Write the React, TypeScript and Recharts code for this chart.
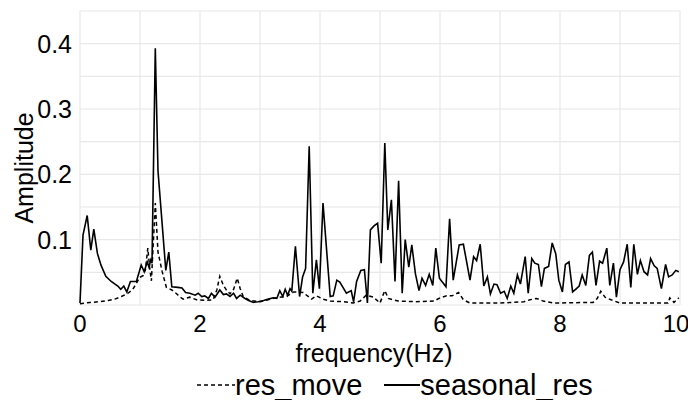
import { LineChart, Line, XAxis, YAxis, CartesianGrid, Legend, Label } from "recharts";

const FONT = '"Liberation Sans", Arial, sans-serif';

// [frequency (Hz), amplitude]
const seasonalRes: [number, number][] = [
  [0.0, 0.003], [0.05, 0.107], [0.12, 0.137], [0.18, 0.084], [0.23, 0.116], [0.29, 0.079],
  [0.35, 0.061], [0.43, 0.044], [0.52, 0.036], [0.63, 0.029], [0.68, 0.024], [0.73, 0.029],
  [0.78, 0.02], [0.84, 0.036], [0.94, 0.036], [1.02, 0.061], [1.07, 0.051], [1.12, 0.066],
  [1.15, 0.058], [1.18, 0.069], [1.2, 0.064], [1.255, 0.393], [1.3, 0.205], [1.43, 0.053],
  [1.48, 0.081], [1.53, 0.028], [1.63, 0.027], [1.7, 0.026], [1.76, 0.019], [1.83, 0.018],
  [1.92, 0.015], [1.97, 0.018], [2.03, 0.013], [2.08, 0.014], [2.14, 0.01], [2.19, 0.018],
  [2.25, 0.012], [2.33, 0.023], [2.39, 0.016], [2.44, 0.017], [2.5, 0.013], [2.56, 0.018],
  [2.61, 0.01], [2.67, 0.015], [2.75, 0.01], [2.81, 0.007], [2.89, 0.004], [2.97, 0.005],
  [3.06, 0.007], [3.14, 0.009], [3.22, 0.011], [3.28, 0.01], [3.33, 0.022], [3.38, 0.013],
  [3.42, 0.024], [3.46, 0.015], [3.5, 0.025], [3.53, 0.021], [3.59, 0.09], [3.66, 0.013],
  [3.71, 0.043], [3.76, 0.056], [3.82, 0.243], [3.88, 0.018], [3.94, 0.069], [3.99, 0.025],
  [4.05, 0.156], [4.17, 0.013], [4.22, 0.014], [4.28, 0.038], [4.33, 0.035], [4.44, 0.018],
  [4.52, 0.022], [4.56, 0.005], [4.61, 0.036], [4.68, 0.053], [4.74, 0.054], [4.79, 0.003],
  [4.84, 0.115], [4.9, 0.121], [4.96, 0.125], [5.02, 0.064], [5.08, 0.248], [5.13, 0.115],
  [5.19, 0.161], [5.25, 0.036], [5.31, 0.19], [5.37, 0.018], [5.42, 0.1], [5.48, 0.058],
  [5.53, 0.092], [5.59, 0.048], [5.65, 0.022], [5.7, 0.041], [5.76, 0.03], [5.82, 0.047],
  [5.88, 0.03], [5.93, 0.087], [5.99, 0.041], [6.1, 0.028], [6.16, 0.132], [6.22, 0.038],
  [6.32, 0.092], [6.39, 0.093], [6.5, 0.038], [6.56, 0.074], [6.61, 0.068], [6.67, 0.093],
  [6.73, 0.029], [6.79, 0.043], [6.84, 0.017], [6.9, 0.032], [6.95, 0.031], [7.01, 0.018],
  [7.07, 0.021], [7.12, 0.01], [7.18, 0.029], [7.23, 0.018], [7.29, 0.046], [7.34, 0.032],
  [7.42, 0.074], [7.47, 0.018], [7.53, 0.071], [7.58, 0.064], [7.64, 0.062], [7.69, 0.028],
  [7.74, 0.056], [7.81, 0.059], [7.87, 0.095], [7.93, 0.078], [7.98, 0.038], [8.04, 0.02],
  [8.09, 0.062], [8.15, 0.066], [8.21, 0.02], [8.26, 0.024], [8.32, 0.029], [8.37, 0.046],
  [8.43, 0.03], [8.49, 0.076], [8.54, 0.081], [8.6, 0.03], [8.66, 0.067], [8.71, 0.064],
  [8.78, 0.087], [8.83, 0.03], [8.89, 0.064], [8.94, 0.012], [9.0, 0.054], [9.06, 0.066],
  [9.12, 0.093], [9.18, 0.027], [9.23, 0.093], [9.29, 0.047], [9.34, 0.068], [9.4, 0.051],
  [9.46, 0.046], [9.51, 0.071], [9.57, 0.06], [9.62, 0.056], [9.69, 0.025], [9.76, 0.062],
  [9.81, 0.043], [9.87, 0.046], [9.93, 0.053], [9.98, 0.051],
];

const resMove: [number, number][] = [
  [0.0, 0.002], [0.17, 0.004], [0.33, 0.005], [0.47, 0.007], [0.58, 0.009], [0.69, 0.013],
  [0.8, 0.018], [0.88, 0.024], [0.94, 0.033], [0.99, 0.042], [1.05, 0.045], [1.09, 0.054],
  [1.13, 0.087], [1.16, 0.058], [1.19, 0.037], [1.255, 0.156], [1.3, 0.081], [1.37, 0.051],
  [1.44, 0.027], [1.53, 0.023], [1.6, 0.018], [1.67, 0.012], [1.72, 0.009], [1.83, 0.012],
  [1.94, 0.008], [2.11, 0.007], [2.22, 0.008], [2.28, 0.023], [2.33, 0.044], [2.39, 0.03],
  [2.44, 0.023], [2.5, 0.017], [2.56, 0.024], [2.62, 0.041], [2.67, 0.025], [2.72, 0.013],
  [2.83, 0.007], [3.0, 0.005], [3.17, 0.009], [3.33, 0.012], [3.44, 0.013], [3.56, 0.02],
  [3.72, 0.019], [3.86, 0.009], [3.94, 0.014], [4.05, 0.009], [4.17, 0.006], [4.4, 0.005],
  [4.55, 0.003], [4.67, 0.006], [4.77, 0.015], [4.89, 0.012], [5.0, 0.003], [5.08, 0.022],
  [5.14, 0.01], [5.3, 0.006], [5.6, 0.005], [5.9, 0.006], [6.0, 0.011], [6.11, 0.014],
  [6.2, 0.014], [6.31, 0.019], [6.39, 0.008], [6.5, 0.003], [7.0, 0.003], [7.4, 0.005],
  [7.5, 0.008], [7.61, 0.01], [7.72, 0.006], [7.89, 0.003], [8.55, 0.004], [8.62, 0.01],
  [8.68, 0.021], [8.75, 0.012], [8.85, 0.008], [9.0, 0.003], [9.8, 0.003], [9.83, 0.011],
  [9.9, 0.004], [9.98, 0.011],
];

const xTicks = [0, 1, 2, 3, 4, 5, 6, 7, 8, 9, 10];
const yTicks = [0, 0.05, 0.1, 0.15, 0.2, 0.25, 0.3, 0.35, 0.4, 0.45];
const yLabels = [0.1, 0.2, 0.3, 0.4];

const toRows = (pts: [number, number][]) => pts.map(([f, v]) => ({ f, v }));

function FreqLegend() {
  return (
    <div
      style={{
        display: "flex",
        alignItems: "center",
        marginLeft: 197,
        height: 30,
        fontFamily: FONT,
        fontSize: 29,
        color: "#000",
        whiteSpace: "nowrap",
      }}
    >
      <svg width={38} height={10}>
        <line x1={0} y1={5} x2={38} y2={5} stroke="#000" strokeWidth={1.6} strokeDasharray="4 3" />
      </svg>
      <span>res_move</span>
      <svg width={36} height={10} style={{ marginLeft: 22 }}>
        <line x1={0} y1={5} x2={36} y2={5} stroke="#000" strokeWidth={1.8} />
      </svg>
      <span>seasonal_res</span>
    </div>
  );
}

export default function App() {
  return (
    <div style={{ position: "absolute", left: 0, top: 0, background: "#fff" }}>
      <LineChart width={688} height={400} margin={{ top: 11, right: 8, bottom: 0, left: 0 }}>
        <CartesianGrid stroke="#e8e8e8" strokeWidth={1.2} />
        <XAxis
          type="number"
          dataKey="f"
          domain={[0, 10]}
          ticks={xTicks}
          tickFormatter={(v: number) => (v % 2 === 0 ? String(v) : "")}
          axisLine={false}
          tickLine={false}
          tickSize={0}
          tickMargin={10}
          height={65}
          tick={{ fill: "#000", fontSize: 24, fontFamily: FONT }}
        >
          <Label
            value="frequency(Hz)"
            position="insideBottom"
            offset={8}
            dx={-6}
            style={{ fill: "#000", fontSize: 25, fontFamily: FONT }}
          />
        </XAxis>
        <YAxis
          type="number"
          domain={[0, 0.45]}
          ticks={yTicks}
          tickFormatter={(v: number) => (yLabels.some((l) => Math.abs(l - v) < 1e-6) ? String(v) : "")}
          axisLine={false}
          tickLine={false}
          tickSize={0}
          tickMargin={8}
          width={80}
          tick={{ fill: "#000", fontSize: 25, fontFamily: FONT }}
        >
          <Label
            content={(props: any) => {
              const vb = props.viewBox || {};
              const cx = 24;
              const cy = (vb.y ?? 11) + (vb.height ?? 294) / 2 + 10;
              return (
                <text
                  x={cx}
                  y={cy}
                  transform={`rotate(-90, ${cx}, ${cy})`}
                  textAnchor="middle"
                  dominantBaseline="central"
                  style={{ fill: "#000", fontSize: 25, fontFamily: FONT }}
                >
                  Amplitude
                </text>
              );
            }}
          />
        </YAxis>
        <Legend verticalAlign="bottom" height={30} content={() => <FreqLegend />} />
        <Line
          data={toRows(resMove)}
          dataKey="v"
          name="res_move"
          type="linear"
          stroke="#000"
          strokeWidth={1.5}
          strokeDasharray="4 3"
          dot={false}
          activeDot={false}
          isAnimationActive={false}
        />
        <Line
          data={toRows(seasonalRes)}
          dataKey="v"
          name="seasonal_res"
          type="linear"
          stroke="#000"
          strokeWidth={1.6}
          dot={false}
          activeDot={false}
          isAnimationActive={false}
        />
      </LineChart>
    </div>
  );
}
